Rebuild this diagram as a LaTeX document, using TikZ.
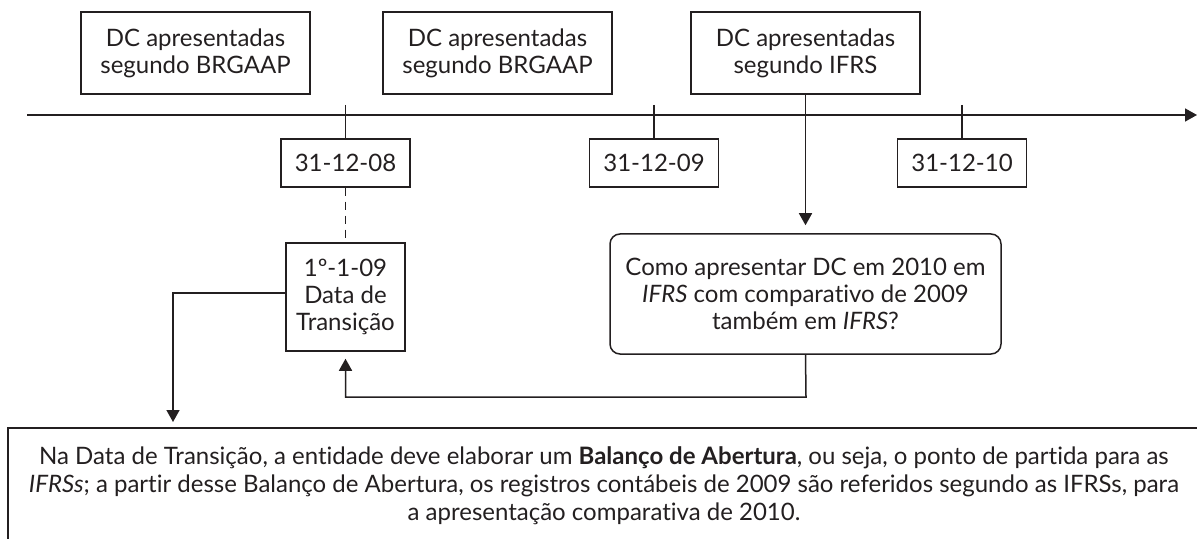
\documentclass[tikz,border=0pt]{standalone}
\usepackage{fontspec}
\setmainfont{Lato}[Ligatures={NoCommon,NoContextual,NoRare}, RawFeature={-liga;-clig;-calt;-dlig}]
\usetikzlibrary{arrows.meta}
\definecolor{ink}{HTML}{231F20}
\tikzset{
  box/.style={draw=ink, line width=0.75pt, text=ink, align=center, inner sep=0pt, font=\fontsize{12}{13.5}\selectfont},
  datebox/.style={box, minimum width=64.5pt, minimum height=24pt},
  conn/.style={draw=ink, line width=0.75pt},
  arr/.style={conn, -{Triangle[length=6pt,width=6.5pt]}},
}
\begin{document}
\begin{tikzpicture}[x=0.5pt,y=-0.5pt]
\useasboundingbox (0,0) rectangle (1197,539);
\clip (0,0) rectangle (1197,539);
% top boxes
\node[box, minimum width=114.5pt, minimum height=41pt] (b1) at (195.5,53) {DC apresentadas\\segundo BRGAAP};
\node[box, minimum width=114.5pt, minimum height=41pt] (b2) at (497.5,53) {DC apresentadas\\segundo BRGAAP};
\node[box, minimum width=114.5pt, minimum height=41pt] (b3) at (805.5,53) {DC apresentadas\\segundo IFRS};
% timeline
\coordinate (t0) at (27,115);
\coordinate (t1) at (1197,115);
\draw[arr] (t0) -- (t1);
% date boxes
\node[datebox] (d1) at (345.5,163) {31-12-08};
\node[datebox] (d2) at (654,163) {31-12-09};
\node[datebox] (d3) at (962,163) {31-12-10};
\coordinate (k1) at (345.5,105);
\coordinate (k2) at (654,105);
\coordinate (k3) at (962,105);
\draw[conn] (k1) -- (d1.north);
\draw[conn] (k2) -- (d2.north);
\draw[conn] (k3) -- (d3.north);
% transition box
\node[box, minimum width=59.5pt, minimum height=54pt] (tr) at (345.5,297) {1º-1-09\\Data de\\Transição};
\draw[conn, dashed, dash pattern=on 4pt off 3pt] (d1.south) -- (tr.north);
% question box
\node[box, rounded corners=5pt, minimum width=195.5pt, minimum height=60pt] (q) at (805.5,294) {Como apresentar DC em 2010 em\\\textit{IFRS} com comparat\kern0pt ivo de 2009\\também em \textit{IFRS}?};
\draw[arr, shorten >=4pt] (b3.south) -- (q.north);
\coordinate (c1) at (806,397);
\coordinate (c2) at (345.5,397);
\draw[arr, shorten >=3.5pt] (q.south) -- (c1) -- (c2) -- (tr.south);
% bottom box
\draw[conn] (8,560) -- (8,428) -- (1220,428) -- (1220,560);
\coordinate (c3) at (173,293);
\coordinate (c4) at (173,428);
\draw[arr, shorten >=3pt] (tr.west |- c3) -- (c3) -- (c4);
\node[text=ink, align=center, font=\fontsize{12}{14}\selectfont] (txt) at (604,486) {Na Data de Transição, a ent\kern0pt idade deve elaborar um \textbf{Balanço de Abertura}, ou seja, o ponto de part\kern0pt ida para as\\\textit{IFRSs}; a part\kern0pt ir desse Balanço de Abertura, os registros contábeis de 2009 são referidos segundo as IFRSs, para\\a apresentação comparat\kern0pt iva de 2010.};
\end{tikzpicture}
\end{document}
